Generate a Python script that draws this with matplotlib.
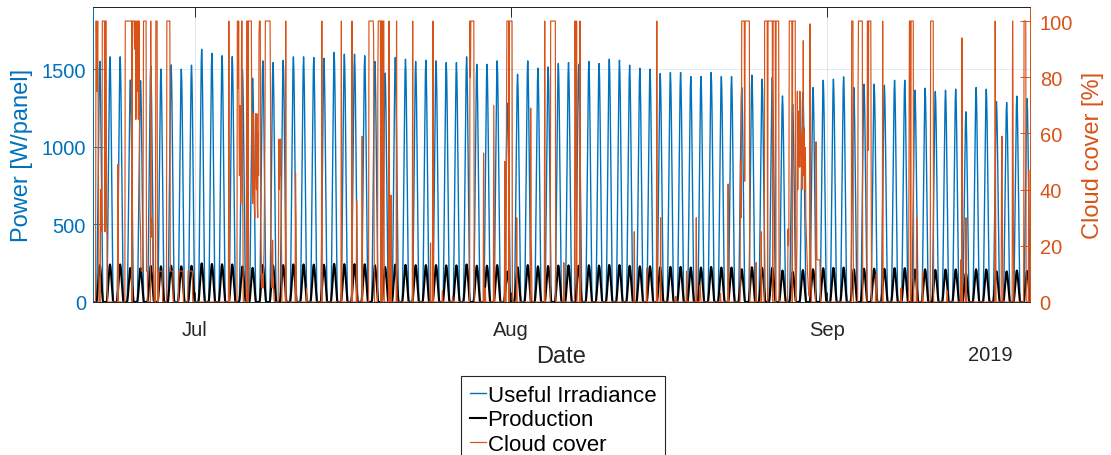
import numpy as np
import matplotlib
matplotlib.use("Agg")
import matplotlib.pyplot as plt
import matplotlib.dates as mdates
from matplotlib.lines import Line2D

# ---------------------------------------------------------------- data
start_date = "2019-06-21"
n_days = 92

# daily peak of the useful irradiance on the panel [W/panel]
irr_peak = [
    1550, 1579, 1579, 1430, 1425, 1521, 1500, 1527, 1500, 1525,
    1628, 1602, 1586, 1580, 1495, 1441, 1553, 1542, 1557, 1579,
    1579, 1575, 1570, 1607, 1596, 1596, 1586, 1549, 1474, 1575,
    1564, 1549, 1557, 1553, 1542, 1542, 1579, 1531, 1531, 1553,
    1280, 1467, 1553, 1506, 1514, 1536, 1542, 1531, 1549, 1536,
    1564, 1557, 1525, 1506, 1500, 1471, 1478, 1478, 1452, 1452,
    1478, 1452, 1452, 1381, 1461, 1435, 1446, 1327, 1274, 1349,
    1381, 1428, 1435, 1450, 1381, 1403, 1403, 1396, 1428, 1428,
    1364, 1377, 1356, 1364, 1371, 1225, 1381, 1371, 1291, 1285,
    1326, 1310,
]

# daily peak of the electrical production [W/panel]
prod_peak = [
    237, 242, 242, 219, 218, 233, 230, 234, 230, 233,
    249, 245, 243, 242, 229, 220, 238, 236, 238, 242,
    242, 241, 240, 246, 244, 244, 243, 237, 226, 241,
    239, 237, 238, 238, 236, 236, 242, 234, 234, 238,
    196, 224, 238, 230, 232, 235, 236, 234, 237, 235,
    239, 238, 233, 230, 230, 225, 226, 226, 222, 222,
    226, 222, 222, 211, 224, 220, 221, 203, 195, 206,
    211, 218, 220, 222, 211, 215, 215, 214, 218, 218,
    209, 211, 207, 209, 210, 187, 211, 210, 198, 197,
    203, 200,
]

# hourly fraction of the daily peak (hours 0..23)
hour_shape = [
    0.0, 0.0, 0.0, 0.0, 0.0, 0.0, 0.0, 0.0, 0.0, 0.04, 0.16, 0.32,
    0.50, 0.68, 0.84, 0.95, 1.0, 0.95, 0.84, 0.68, 0.50, 0.32, 0.16, 0.04,
]

# cloud cover [%]: (day index, start hour, hourly values); zero elsewhere
cloud_events = [
    (0, 7, [100, 100, 75, 80, 100, 72, 40]),
    (0, 18, [40, 26, 30, 25, 100, 100]),
    (1, 0, [100, 100, 100, 100, 25, 100, 100, 100, 28, 22]),
    (2, 11, [49]),
    (3, 4, [100, 100, 100, 100, 100, 100, 100, 100, 100, 100, 100, 100,
            100, 100, 100, 100, 0, 100, 100, 100]),
    (4, 0, [100, 100, 90, 100, 100, 65, 80, 100, 100, 75, 100, 65,
            100, 100, 35, 30, 25, 12, 11, 11, 11, 11, 40, 100]),
    (5, 0, [100, 100, 100, 100, 100, 100, 11, 11, 11]),
    (5, 16, [100, 28, 25, 23, 30, 11, 11, 11]),
    (6, 4, [100, 100, 100, 100, 0, 0, 0, 11, 11, 11, 11, 11, 11, 11, 11, 11]),
    (7, 6, [100, 100, 100, 100, 100, 100, 100, 100, 11, 11, 11, 11, 11, 11, 11]),
    (8, 10, [11, 11, 11, 11, 11, 11, 11, 11, 11, 11, 11]),
    (9, 8, [11, 11, 11, 11, 11, 11, 11, 11, 11, 11, 11]),
    (13, 8, [100]),
    (14, 4, [100, 100, 76, 100, 60, 45, 70, 50, 35, 55, 100, 100, 45, 30]),
    (15, 2, [100, 100, 100, 0, 100, 100, 100, 100, 100, 100, 100, 100,
             61, 45, 35, 67, 50, 40, 35, 30, 55, 67]),
    (16, 0, [50, 40, 67, 35, 30, 60, 45, 95, 100, 100, 100, 30,
             20, 10, 5, 10, 8, 5, 12, 20, 40, 60, 100, 100]),
    (17, 0, [100, 100, 100, 100, 100, 100, 100, 100, 100, 100, 75, 23,
             15, 8, 5, 22, 10, 5, 3]),
    (18, 5, [20, 58, 40, 52, 45, 58, 40, 20]),
    (18, 22, [100]),
    (19, 21, [46, 30]),
    (20, 23, [5]),
    (22, 11, [100]),
    (24, 9, [100]),
    (25, 10, [100]),
    (25, 21, [36]),
    (26, 10, [59]),
    (27, 2, [100, 100, 100, 100, 100, 100, 100, 100, 100, 100, 100, 95, 30]),
    (27, 23, [82]),
    (28, 0, [100, 100, 100, 100, 100, 100, 0, 100, 100, 100, 0, 100, 100, 100]),
    (29, 1, [100]),
    (29, 6, [38]),
    (29, 19, [100]),
    (31, 9, [100]),
    (33, 3, [21]),
    (33, 9, [100]),
    (34, 7, [4]),
    (35, 7, [2]),
    (37, 0, [100, 80, 100, 100, 100, 100, 100, 100, 100, 100]),
    (38, 8, [53]),
    (38, 12, [5]),
    (39, 8, [70, 33]),
    (40, 10, [50]),
    (40, 14, [70, 100, 100, 100, 100, 100, 0, 100, 100, 100, 100, 100, 100, 100]),
    (41, 14, [30]),
    (42, 23, [69, 22, 15]),
    (44, 8, [100]),
    (44, 22, [100, 100, 100, 100, 100, 100, 100, 100, 100, 100, 100, 100]),
    (46, 5, [14]),
    (47, 7, [100, 100, 56, 10, 100]),
    (47, 19, [100, 30]),
    (53, 3, [25]),
    (54, 8, [12]),
    (55, 8, [100]),
    (55, 17, [30]),
    (57, 5, [2]),
    (58, 6, [11]),
    (59, 5, [30]),
    (59, 13, [4, 6, 3]),
    (61, 14, [3]),
    (62, 8, [42]),
    (63, 13, [50, 45, 30, 100, 100, 100, 100, 100, 100, 100, 43, 100,
              100, 100, 100, 100, 100, 100, 100, 100, 100, 100]),
    (65, 2, [14]),
    (65, 14, [25]),
    (65, 22, [100, 100, 100, 100, 100, 100, 100, 0, 100, 100, 100, 100,
              100, 100, 100, 100, 100, 100, 100, 0, 100, 100, 100, 100,
              100, 100, 0, 100, 100, 100, 100, 100, 100, 100]),
    (68, 5, [26, 20, 22, 100, 100, 100, 100, 100, 100, 100, 0, 100,
             100, 100, 100, 100, 100, 100]),
    (69, 0, [5, 10, 20, 75, 40, 68, 51, 62, 48, 75, 52, 60,
             48, 57, 40, 62, 50, 93, 45, 62, 48, 40, 55, 30]),
    (70, 0, [25, 20, 15, 10, 8, 5, 3, 2, 5, 99, 20, 10]),
    (70, 23, [57, 47, 15, 15, 15, 15, 15, 15, 15, 15, 10]),
    (74, 11, [100, 100, 100, 100]),
    (75, 2, [75, 100, 100, 100, 100, 100, 100, 100, 100, 100, 100]),
    (76, 0, [100, 100, 54, 100, 100, 100, 100, 100, 100, 39]),
    (76, 20, [8, 10, 6]),
    (77, 12, [100]),
    (79, 7, [5]),
    (80, 2, [49, 100, 100, 100, 0, 100, 100, 100, 100, 100, 100]),
    (80, 20, [30]),
    (81, 10, [11]),
    (82, 5, [100, 100, 100, 100, 100, 100, 100]),
    (83, 20, [4]),
    (85, 4, [15, 0, 0, 94]),
    (85, 16, [30]),
    (88, 13, [100, 35]),
    (89, 4, [45, 59, 30]),
    (90, 6, [100, 66, 20]),
    (91, 9, [100, 100, 100, 100, 100]),
    (91, 20, [47]),
]

# ---------------------------------------------------------------- series
n_hours = n_days * 24
times = np.datetime64(start_date + "T00") + np.arange(n_hours).astype("timedelta64[h]")
shape = np.array(hour_shape)
irradiance = (np.array(irr_peak, float)[:, None] * shape[None, :]).ravel()
production = (np.array(prod_peak, float)[:, None] * shape[None, :]).ravel()

cloud = np.zeros(n_hours)
for day, hour, vals in cloud_events:
    i0 = day * 24 + hour
    vals = np.asarray(vals, float)[: max(0, n_hours - i0)]
    cloud[i0:i0 + len(vals)] = vals

# ---------------------------------------------------------------- style
plt.rcParams["font.family"] = ["Liberation Sans", "DejaVu Sans"]
BLUE = "#0072BD"
ORANGE = "#D95319"
DARK = "#262626"

W, H = 1111, 456
fig = plt.figure(figsize=(W / 100, H / 100), dpi=100)
fig.patch.set_facecolor("white")
ax = fig.add_axes([93 / W, 1 - 303 / H, 937 / W, 295 / H])

ax.plot(times, irradiance, color=BLUE, lw=1.0, label="Useful Irradiance")
ax.plot(times, production, color="black", lw=1.5, label="Production")
ax.set_ylim(0, 1900)
ax.set_yticks([0, 500, 1000, 1500])
ax.set_xlim(times[0], times[-1])

ax2 = ax.twinx()
ax2.plot(times, cloud, color=ORANGE, lw=0.85, label="Cloud cover")
ax2.set_ylim(0, 105)
ax2.set_yticks(range(0, 101, 20))
ax2.set_xlim(times[0], times[-1])

ax.xaxis.set_major_locator(mdates.MonthLocator())
ax.xaxis.set_major_formatter(mdates.DateFormatter("%b"))

ax.grid(axis="y", color=BLUE, alpha=0.15, lw=0.6)
ax.grid(axis="x", color=DARK, alpha=0.15, lw=0.6)

for a in (ax, ax2):
    a.spines["top"].set_color(DARK)
    a.spines["bottom"].set_color(DARK)
    a.spines["left"].set_color(BLUE)
    a.spines["right"].set_color(ORANGE)
    for s in a.spines.values():
        s.set_linewidth(0.7)

ax.tick_params(axis="x", which="both", direction="in", top=True, bottom=True,
               length=7, width=0.7, color=DARK, labelcolor=DARK,
               labelsize=14.5, pad=13)
ax.tick_params(axis="y", direction="in", length=7, width=0.7,
               color=BLUE, labelcolor=BLUE, labelsize=14.5, pad=5)
ax2.tick_params(axis="y", direction="in", length=7, width=0.7,
                color=ORANGE, labelcolor=ORANGE, labelsize=14.5, pad=7)

ax.set_ylabel("Power [W/panel]", color=BLUE, fontsize=17)
ax.yaxis.set_label_coords(-0.064, 0.5)
ax2.set_ylabel("Cloud cover [%]", color=ORANGE, fontsize=17)
ax2.yaxis.set_label_coords(1.056, 0.5)

ax.set_xlabel("Date", color=DARK, fontsize=17)
ax.xaxis.set_label_coords(0.5, -0.145)
ax.xaxis.label.set_va("top")
ax.text(0.981, -0.145, "2019", transform=ax.transAxes, ha="right", va="top",
        fontsize=14.5, color=DARK)

handles = [
    Line2D([], [], color=BLUE, lw=1.0),
    Line2D([], [], color="black", lw=1.5),
    Line2D([], [], color=ORANGE, lw=0.85),
]
labels = ["Useful Irradiance", "Production", "Cloud cover"]
leg = fig.legend(handles, labels, loc="upper center",
                 bbox_to_anchor=(563 / W, 1 - 377 / H), borderaxespad=0,
                 fontsize=16, handlelength=0.75, handletextpad=0.05,
                 labelspacing=0.16, borderpad=0.4, fancybox=False,
                 framealpha=1, edgecolor=DARK)
leg.get_frame().set_linewidth(0.8)

fig.savefig("out.png", dpi=100, facecolor="white")
